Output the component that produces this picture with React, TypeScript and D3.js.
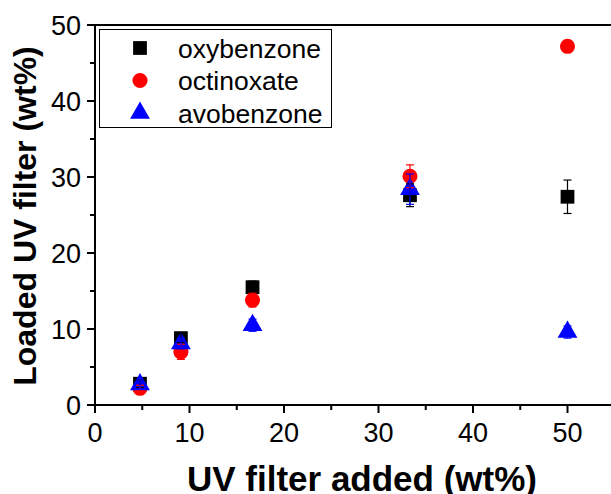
import React from "react";
import * as d3 from "d3";

const xValues = [4.76, 9.09, 16.67, 33.33, 50];
const oxybenzone = [2.8, 8.8, 15.5, 27.6, 27.4];
const oxybenzoneErr = [0.5, 0.6, 0.8, 1.5, 2.2];
const octinoxate = [2.2, 7.0, 13.8, 30.1, 47.2];
const octinoxateErr = [0.4, 1.0, 0.9, 1.5, 0.5];
const avobenzone = [2.7, 8.1, 10.5, 28.4, 9.6];
const avobenzoneErr = [0.6, 0.7, 0.8, 2.0, 0.8];
const seriesNames = ["oxybenzone", "octinoxate", "avobenzone"];
const xTicks = [0, 10, 20, 30, 40, 50];
const yTicks = [0, 10, 20, 30, 40, 50];
const xMinor = [5, 15, 25, 35, 45];
const yMinor = [5, 15, 25, 35, 45];

const W = 611, H = 494;
const left = 95, right = 614.75, top = 25, bottom = 405;
const font = "'Liberation Sans', Arial, sans-serif";

const x = d3.scaleLinear().domain([0, 55]).range([left, right]);
const y = d3.scaleLinear().domain([0, 50]).range([bottom, top]);

const colors = ["#000000", "#ff0000", "#0000ff"];
const symbols = [d3.symbolSquare, d3.symbolCircle, d3.symbolTriangle];
const sizes = [190, 180, 170];

function Marker({ i, cx, cy }: { i: number; cx: number; cy: number }) {
  const path = d3.symbol().type(symbols[i]).size(sizes[i])() as string;
  return <path d={path} transform={`translate(${cx},${cy})`} fill={colors[i]} />;
}

export default function App() {
  const data = [
    { v: oxybenzone, e: oxybenzoneErr },
    { v: octinoxate, e: octinoxateErr },
    { v: avobenzone, e: avobenzoneErr },
  ];
  return (
    <svg width={W} height={H} style={{ position: "absolute", left: 0, top: 0, background: "#fff" }}>
      <rect x={0} y={0} width={W} height={H} fill="#fff" />
      {/* frame */}
      <line x1={left} x2={W} y1={top} y2={top} stroke="#000" strokeWidth={2} />
      <line x1={left} x2={left} y1={top} y2={bottom + 1} stroke="#000" strokeWidth={2} />
      <line x1={left - 1} x2={W} y1={bottom} y2={bottom} stroke="#000" strokeWidth={2} />
      {/* x ticks */}
      {xTicks.map((t) => (
        <g key={"xt" + t}>
          <line x1={x(t)} x2={x(t)} y1={bottom} y2={bottom + 8} stroke="#000" strokeWidth={2} />
          <text x={x(t)} y={442} textAnchor="middle" fontSize={27} fontFamily={font}>{t}</text>
        </g>
      ))}
      {xMinor.map((t) => (
        <line key={"xm" + t} x1={x(t)} x2={x(t)} y1={bottom} y2={bottom + 5} stroke="#000" strokeWidth={2} />
      ))}
      {yTicks.map((t) => (
        <g key={"yt" + t}>
          <line x1={left - 8} x2={left} y1={y(t)} y2={y(t)} stroke="#000" strokeWidth={2} />
          <text x={81} y={y(t)} dy="0.36em" textAnchor="end" fontSize={27} fontFamily={font}>{t}</text>
        </g>
      ))}
      {yMinor.map((t) => (
        <line key={"ym" + t} x1={left - 5} x2={left} y1={y(t)} y2={y(t)} stroke="#000" strokeWidth={2} />
      ))}
      {/* markers */}
      {data.map((s, i) =>
        s.v.map((v, j) => <Marker key={`m${i}-${j}`} i={i} cx={x(xValues[j])} cy={y(v)} />)
      )}
      {/* error bars */}
      {data.map((s, i) =>
        s.v.map((v, j) => {
          const cx = x(xValues[j]);
          const y1 = y(v + s.e[j]);
          const y2 = y(v - s.e[j]);
          return (
            <g key={`e${i}-${j}`} stroke={colors[i]} strokeWidth={1.2}>
              <line x1={cx} x2={cx} y1={y1} y2={y2} />
              <line x1={cx - 4} x2={cx + 4} y1={y1} y2={y1} />
              <line x1={cx - 4} x2={cx + 4} y1={y2} y2={y2} />
            </g>
          );
        })
      )}
      {/* legend */}
      <rect x={99.5} y={29.5} width={232} height={98} fill="#fff" stroke="#000" strokeWidth={1} />
      {seriesNames.map((n, i) => (
        <g key={n}>
          <Marker i={i} cx={140} cy={48 + i * 32.5} />
          <text x={178} y={48 + i * 32.5} dy="0.36em" fontSize={26.5} fontFamily={font}>{n}</text>
        </g>
      ))}
      {/* titles */}
      <text x={362} y={491} textAnchor="middle" fontSize={35} fontWeight="bold" fontFamily={font}>
        UV filter added (wt%)
      </text>
      <text transform={`translate(36,216) rotate(-90)`} textAnchor="middle" fontSize={32} fontWeight="bold" fontFamily={font}>
        Loaded UV filter (wt%)
      </text>
    </svg>
  );
}
